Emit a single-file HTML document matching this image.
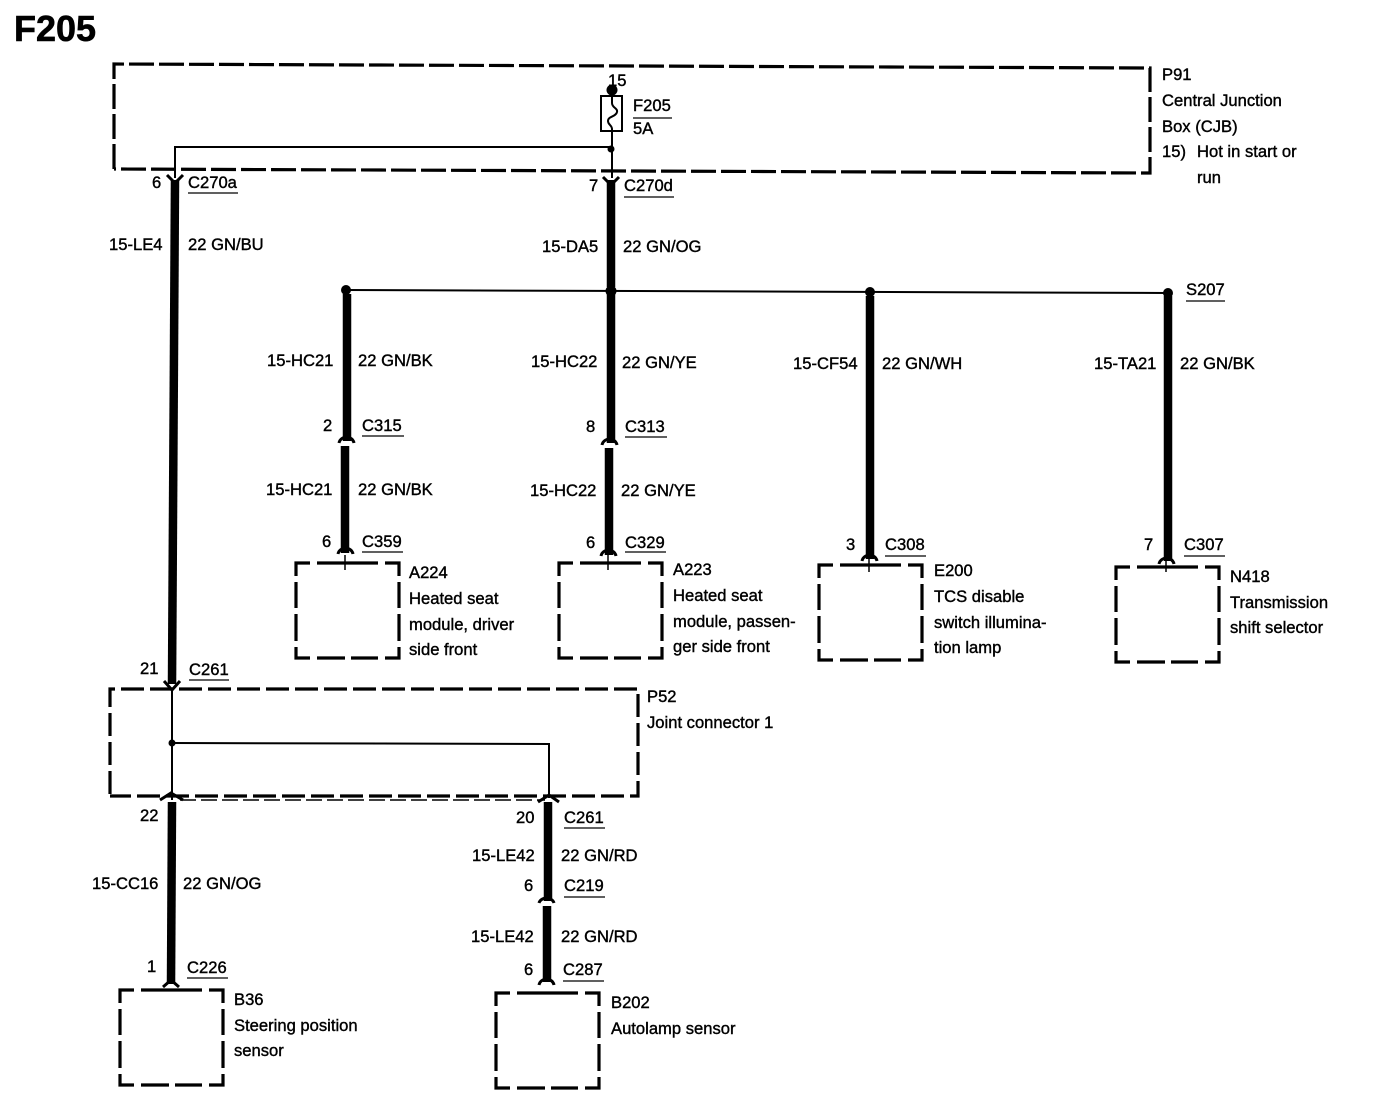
<!DOCTYPE html>
<html><head><meta charset="utf-8"><style>
html,body{margin:0;padding:0;background:#fff}
svg{display:block}
text{font-family:"Liberation Sans",sans-serif;font-size:16.6px;fill:#000;stroke:#000;stroke-width:.4}
.d{fill:none;stroke:#000;stroke-width:3.2;stroke-dasharray:25 5}
.b{fill:none;stroke:#000;stroke-width:3.2}
.w{stroke:#000;stroke-width:8.5;fill:none}
.t{stroke:#000;stroke-width:2;fill:none}
.u{stroke:#000;stroke-width:1.3}
.a{fill:none;stroke:#000;stroke-width:3}
</style></head><body>
<svg width="1376" height="1108" viewBox="0 0 1376 1108" xmlns="http://www.w3.org/2000/svg">
<defs>
<path id="b" class="b" d="M0 13V0H14M21 0H82M89 0H103V13M103 19V45M103 51V78M103 84V95H89M82 95H55M49 95H21M14 95H0V84M0 78V51M0 45V19"/>
</defs>
<text x="14" y="41" style="font-size:36px;font-weight:bold;stroke-width:.6">F205</text>

<!-- boxes -->
<path class="d" d="M114 169V64L1150 68V173L114 169"/>
<path class="d" d="M110 794V689H638V796H110" style="stroke-dasharray:23 6"/>
<use href="#b" x="296" y="563"/>
<use href="#b" x="559" y="563"/>
<use href="#b" x="819" y="565"/>
<use href="#b" x="1116" y="567"/>
<use href="#b" x="120" y="990"/>
<use href="#b" x="496" y="993"/>

<!-- fuse -->
<circle cx="612" cy="90" r="5.5"/>
<rect x="601" y="96" width="21" height="35" fill="none" stroke="#000" stroke-width="2"/>
<path class="t" d="M612 90V103C612 108 618 108 617 112C616 117 608 116 608 121C608 125 612 125 612 129V178"/>
<circle cx="611" cy="149" r="3.5"/>
<path class="t" d="M611 147H175V178"/>

<!-- thick wires -->
<path class="w" d="M175 180L172 684"/>
<path class="w" d="M611 180V287"/>
<path class="w" d="M347 294V441M345 446V553"/>
<path class="w" d="M611 294V443M609 448V555"/>
<path class="w" d="M870 296V559"/>
<path class="w" d="M1168 296V561"/>
<path class="w" d="M172 802L171 984"/>
<path class="w" d="M548 802V901M547 906V982"/>

<!-- connector arrows -->
<path class="a" d="M167 175L175 183L183 175"/>
<path class="a" d="M603 177L611 185L619 177"/>
<path class="a" d="M339 443C340 438 345 437 346 437C348 437 353 438 354 443"/>
<path class="a" d="M338 554C339 549 344 548 345 548C347 548 352 549 353 554"/>
<path class="a" d="M602 445C603 440 608 439 609 439C611 439 616 440 617 445"/>
<path class="a" d="M601 556C602 551 607 550 608 550C610 550 615 551 616 556"/>
<path class="a" d="M862 561C863 556 868 555 869 555C871 555 876 556 877 561"/>
<path class="a" d="M1159 564C1160 559 1165 558 1166 558C1168 558 1173 559 1174 564"/>
<path class="a" d="M164 681L172 690L180 681"/>
<path class="a" d="M160 800L171 793L183 800"/>
<path class="a" d="M538 802L549 795L559 802"/>
<path class="a" d="M539 903C540 899 545 898 546 898C548 898 553 899 554 903"/>
<path class="a" d="M539 985C540 980 545 979 546 979C548 979 553 980 554 985"/>
<path class="a" d="M163 987L171 980L179 987"/>
<path class="t" d="M345 555V570M608 555V570M869 558V572M1166 560V572" style="stroke-width:1.5"/>

<!-- splice -->
<path class="t" d="M346 290L1168 293"/>
<circle cx="346" cy="290" r="5"/><circle cx="611" cy="291" r="5.5"/><circle cx="870" cy="292" r="5"/><circle cx="1168" cy="293" r="5"/>

<!-- joint -->
<path class="t" d="M172 690V800"/>
<circle cx="172" cy="743" r="3.5"/>
<path class="t" d="M172 743L549 744V798"/>
<path d="M180 800H545" stroke="#000" stroke-width="1.6" stroke-dasharray="16 5" fill="none"/>

<!-- underlines -->
<path class="u" d="M633 118H672M188 193H238M624 197H674M1186 301H1225M362 436H404M625 437H667M362 552H403M625 552H666M885 556H926M1184 556H1225M189 680H229M564 828H605M564 897H605M187 978H228M563 981H604"/>

<!-- labels -->
<text x="608" y="86">15</text>
<text x="633" y="111">F205</text><text x="633" y="134">5A</text>
<text x="1162" y="80">P91</text>
<text x="1162" y="106">Central Junction</text>
<text x="1162" y="132">Box (CJB)</text>
<text x="1162" y="157">15)</text><text x="1197" y="157">Hot in start or</text>
<text x="1197" y="183">run</text>
<text x="152" y="188">6</text><text x="188" y="188">C270a</text>
<text x="589" y="191">7</text><text x="624" y="191">C270d</text>
<text x="109" y="250">15-LE4</text><text x="188" y="250">22 GN/BU</text>
<text x="542" y="252">15-DA5</text><text x="623" y="252">22 GN/OG</text>
<text x="1186" y="295">S207</text>
<text x="267" y="366">15-HC21</text><text x="358" y="366">22 GN/BK</text>
<text x="531" y="367">15-HC22</text><text x="622" y="368">22 GN/YE</text>
<text x="793" y="369">15-CF54</text><text x="882" y="369">22 GN/WH</text>
<text x="1094" y="369">15-TA21</text><text x="1180" y="369">22 GN/BK</text>
<text x="323" y="431">2</text><text x="362" y="431">C315</text>
<text x="586" y="432">8</text><text x="625" y="432">C313</text>
<text x="266" y="495">15-HC21</text><text x="358" y="495">22 GN/BK</text>
<text x="530" y="496">15-HC22</text><text x="621" y="496">22 GN/YE</text>
<text x="322" y="547">6</text><text x="362" y="547">C359</text>
<text x="586" y="548">6</text><text x="625" y="548">C329</text>
<text x="846" y="550">3</text><text x="885" y="550">C308</text>
<text x="1144" y="550">7</text><text x="1184" y="550">C307</text>
<text x="409" y="578">A224</text><text x="409" y="604">Heated seat</text><text x="409" y="630">module, driver</text><text x="409" y="655">side front</text>
<text x="673" y="575">A223</text><text x="673" y="601">Heated seat</text><text x="673" y="627">module, passen-</text><text x="673" y="652">ger side front</text>
<text x="934" y="576">E200</text><text x="934" y="602">TCS disable</text><text x="934" y="628">switch illumina-</text><text x="934" y="653">tion lamp</text>
<text x="1230" y="582">N418</text><text x="1230" y="608">Transmission</text><text x="1230" y="633">shift selector</text>
<text x="140" y="674">21</text><text x="189" y="675">C261</text>
<text x="647" y="702">P52</text><text x="647" y="728">Joint connector 1</text>
<text x="140" y="821">22</text>
<text x="516" y="823">20</text><text x="564" y="823">C261</text>
<text x="472" y="861">15-LE42</text><text x="561" y="861">22 GN/RD</text>
<text x="92" y="889">15-CC16</text><text x="183" y="889">22 GN/OG</text>
<text x="524" y="891">6</text><text x="564" y="891">C219</text>
<text x="471" y="942">15-LE42</text><text x="561" y="942">22 GN/RD</text>
<text x="147" y="972">1</text><text x="187" y="973">C226</text>
<text x="524" y="975">6</text><text x="563" y="975">C287</text>
<text x="234" y="1005">B36</text><text x="234" y="1031">Steering position</text><text x="234" y="1056">sensor</text>
<text x="611" y="1008">B202</text><text x="611" y="1034">Autolamp sensor</text>
</svg>
</body></html>
